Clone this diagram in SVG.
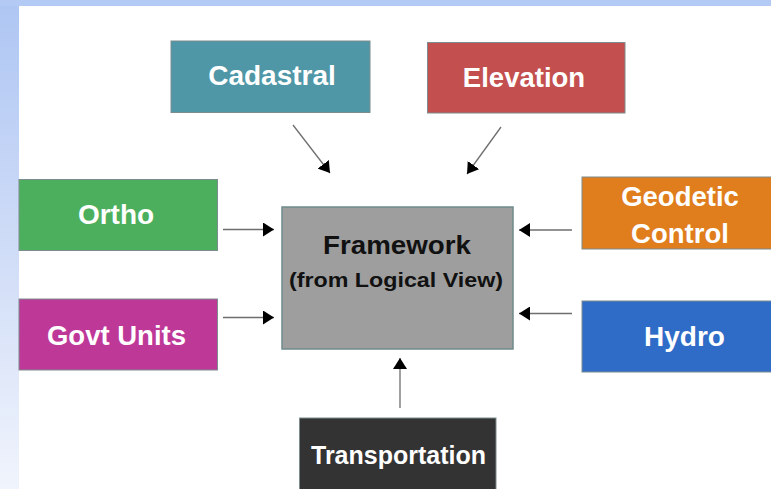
<svg xmlns="http://www.w3.org/2000/svg" width="771" height="489" viewBox="0 0 771 489">
  <defs>
    <linearGradient id="sideBand" x1="0" y1="0" x2="0" y2="1">
      <stop offset="0" stop-color="#aec6f3"/>
      <stop offset="0.5" stop-color="#cfdcf7"/>
      <stop offset="1" stop-color="#f0f4fc"/>
    </linearGradient>
    <marker id="head" markerUnits="userSpaceOnUse" markerWidth="12" markerHeight="14" viewBox="0 0 12 14" refX="11" refY="7" orient="auto">
      <path d="M0,0 L11,7 L0,14 Z" fill="#000"/>
    </marker>
  </defs>
  <style>
    .box { stroke: #7d8c8e; stroke-width: 1; }
    .lbl { font-family: "Liberation Sans", Arial, sans-serif; font-weight: bold; fill: #fff; text-anchor: middle; }
    .core { font-family: "Liberation Sans", Arial, sans-serif; font-weight: bold; fill: #111; text-anchor: middle; }
    .link { stroke: #6e6e6e; stroke-width: 1.3; fill: none; marker-end: url(#head); }
  </style>

  <!-- page background and slide frame -->
  <rect x="0" y="0" width="771" height="489" fill="#ffffff"/>
  <rect x="0" y="0" width="19" height="489" fill="url(#sideBand)"/>
  <rect x="0" y="0" width="771" height="6" fill="#b3caf4"/>

  <!-- connectors -->
  <g id="connectors">
    <line class="link" x1="293" y1="125" x2="330" y2="173"/>
    <line class="link" x1="501" y1="127" x2="467" y2="174"/>
    <line class="link" x1="223" y1="229.5" x2="274" y2="229.5"/>
    <line class="link" x1="223" y1="317.5" x2="274" y2="317.5"/>
    <line class="link" x1="572" y1="230" x2="519" y2="230"/>
    <line class="link" x1="572" y1="313.5" x2="519" y2="313.5"/>
    <line class="link" x1="400" y1="408" x2="400" y2="358"/>
  </g>

  <g id="framework">
    <rect x="282" y="207" width="231" height="142" fill="#9e9e9e" stroke="#6f8a8a" stroke-width="1.5"/>
    <text class="core" x="397" y="254" font-size="26" textLength="148" lengthAdjust="spacingAndGlyphs">Framework</text>
    <text class="core" x="396" y="287" font-size="21" textLength="214" lengthAdjust="spacingAndGlyphs">(from Logical View)</text>
  </g>

  <g id="cadastral">
    <rect class="box" x="171" y="41" width="199" height="71.5" fill="#4f97a7"/>
    <text class="lbl" x="272" y="85" font-size="28">Cadastral</text>
  </g>

  <g id="elevation">
    <rect class="box" x="427.5" y="42.5" width="197.5" height="70.5" fill="#c44f4f"/>
    <text class="lbl" x="524" y="86.5" font-size="27.5">Elevation</text>
  </g>

  <g id="ortho">
    <rect class="box" x="19" y="179.5" width="198.5" height="71" fill="#4caf5e"/>
    <text class="lbl" x="116" y="224" font-size="28">Ortho</text>
  </g>

  <g id="govt-units">
    <rect class="box" x="19" y="299" width="198.5" height="71" fill="#be3898"/>
    <text class="lbl" x="116.5" y="345" font-size="27.5">Govt Units</text>
  </g>

  <g id="geodetic-control">
    <rect class="box" x="582" y="177" width="195" height="72" fill="#e07d1d"/>
    <text class="lbl" x="680" y="206" font-size="27.5">Geodetic</text>
    <text class="lbl" x="680" y="243" font-size="27.5">Control</text>
  </g>

  <g id="hydro">
    <rect class="box" x="582" y="301" width="195" height="71" fill="#2f6cc7"/>
    <text class="lbl" x="684.5" y="346" font-size="28">Hydro</text>
  </g>

  <g id="transportation">
    <rect class="box" x="299.5" y="418" width="196.5" height="75" fill="#333333"/>
    <text class="lbl" x="398.5" y="464" font-size="25">Transportation</text>
  </g>
</svg>
